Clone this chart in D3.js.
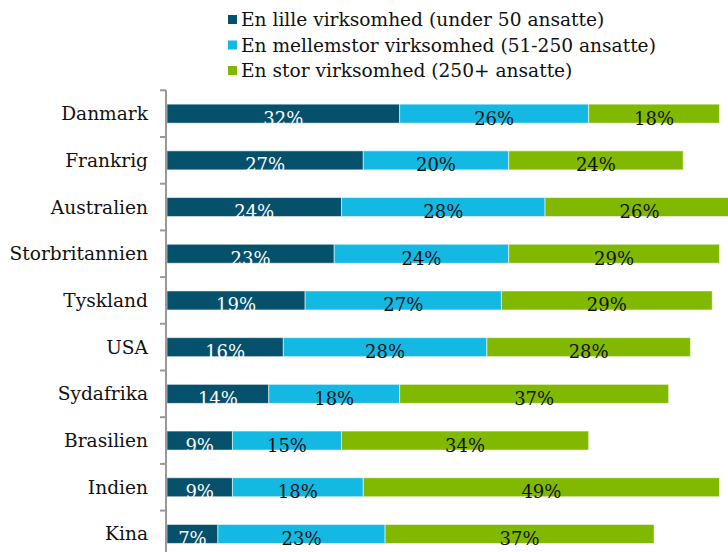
<!DOCTYPE html>
<html>
<head>
<meta charset="utf-8">
<script src="https://cdn.jsdelivr.net/npm/d3@7"></script>
<style>
  body { margin: 0; background: #fff; }
  svg { display: block; font-family: "DejaVu Serif", serif; }
</style>
</head>
<body>
<div id="wrapper"></div>
<script>
const countries = ["Danmark", "Frankrig", "Australien", "Storbritannien", "Tyskland",
  "USA", "Sydafrika", "Brasilien", "Indien", "Kina"]
const small = [32, 27, 24, 23, 19, 16, 14, 9, 9, 7]
const medium = [26, 20, 28, 24, 27, 28, 18, 15, 18, 23]
const large = [18, 24, 26, 29, 29, 28, 37, 34, 49, 37]
const seriesNames = [
  "En lille virksomhed (under 50 ansatte)",
  "En mellemstor virksomhed (51-250 ansatte)",
  "En stor virksomhed (250+ ansatte)",
]
const colors = ["#05506b", "#13b9e3", "#80b900"]
const textColors = ["#fff", "#111", "#111"]

function drawChart() {
  const dms = {
    width: 728,
    height: 552,
    margin: { top: 90.3, left: 167 },
  }
  const step = 46.7

  const dataset = countries.map((c, i) => ({
    country: c, values: [small[i], medium[i], large[i]],
  }))
  const keys = [0, 1, 2]
  const stacked = d3.stack()
    .keys(keys)
    .value((d, k) => d.values[k])(dataset)

  const wrapper = d3.select("#wrapper")
    .append("svg")
    .attr("width", dms.width)
    .attr("height", dms.height)

  const bounds = wrapper.append("g")
    .attr("transform", `translate(${dms.margin.left},${dms.margin.top})`)

  const xScale = d3.scaleLinear()
    .domain([0, 100])
    .range([0, 727])

  const yScale = d3.scaleBand()
    .domain(countries)
    .range([0, step * countries.length])
    .paddingInner(0.593)
    .paddingOuter(0.2965)

  // bars
  const layers = bounds.selectAll(".layer")
    .data(stacked)
    .join("g")
    .attr("class", "layer")
    .attr("fill", (d, i) => colors[i])

  layers.selectAll("rect")
    .data(d => d)
    .join("rect")
    .attr("x", d => xScale(d[0]))
    .attr("y", d => yScale(d.data.country))
    .attr("width", d => xScale(d[1]) - xScale(d[0]))
    .attr("height", yScale.bandwidth())
    .attr("stroke", "#fff")
    .attr("stroke-opacity", 0.55)
    .attr("stroke-width", 1)

  layers.each(function(layer, i) {
    d3.select(this).selectAll("text")
      .data(layer)
      .join("text")
      .attr("x", d => (xScale(d[0]) + xScale(d[1])) / 2)
      .attr("y", d => yScale(d.data.country) + yScale.bandwidth() / 2 + 11)
      .attr("text-anchor", "middle")
      .attr("fill", textColors[i])
      .style("font-size", "18px")
      .text(d => d.data.values[i] + "%")
  })

  // y axis
  const axis = bounds.append("g").attr("class", "axis")
  axis.append("line")
    .attr("x1", -1).attr("x2", -1)
    .attr("y1", 0).attr("y2", step * countries.length)
    .attr("stroke", "#999").attr("stroke-width", 2)
  axis.selectAll(".tick")
    .data(d3.range(countries.length + 1))
    .join("line")
    .attr("class", "tick")
    .attr("x1", -7).attr("x2", -1)
    .attr("y1", d => d * step).attr("y2", d => d * step)
    .attr("stroke", "#999").attr("stroke-width", 2)
  axis.selectAll(".label")
    .data(countries)
    .join("text")
    .attr("class", "label")
    .attr("x", -19)
    .attr("y", d => yScale(d) + yScale.bandwidth() / 2)
    .attr("dy", "0.35em")
    .attr("text-anchor", "end")
    .attr("fill", "#111")
    .style("font-size", "18.6px")
    .text(d => d)

  // legend
  const legend = wrapper.append("g")
    .attr("transform", "translate(228, 19.5)")
  const items = legend.selectAll("g")
    .data(seriesNames)
    .join("g")
    .attr("transform", (d, i) => `translate(0, ${i * 25.5})`)
  items.append("rect")
    .attr("x", 0).attr("y", -4.5)
    .attr("width", 9).attr("height", 9)
    .attr("fill", (d, i) => colors[i])
  items.append("text")
    .attr("x", 13)
    .attr("dy", "0.35em")
    .attr("fill", "#111")
    .style("font-size", "18.6px")
    .text(d => d)
}

drawChart()
</script>
</body>
</html>
